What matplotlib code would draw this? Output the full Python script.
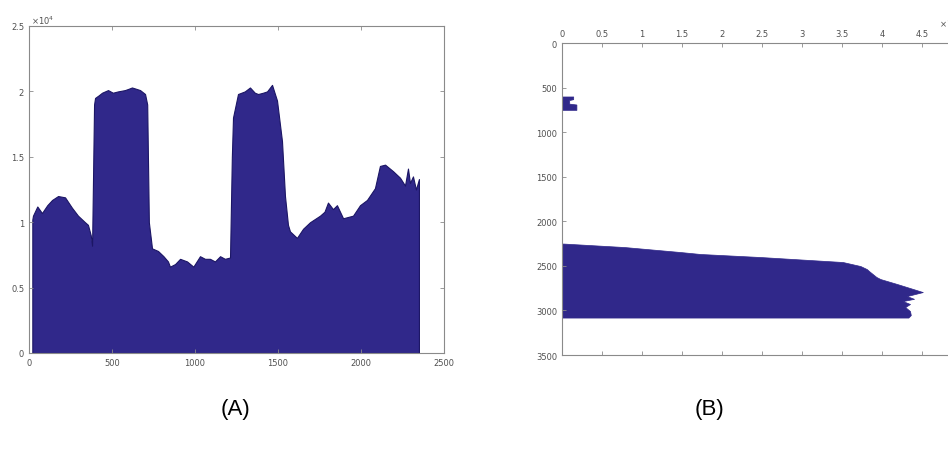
"""
Two MATLAB-style area plots: a profile (A) and a horizontal histogram-like profile (B).
"""

import matplotlib
matplotlib.use("Agg")
import matplotlib.pyplot as plt
from matplotlib.ticker import FuncFormatter

# panel A: profile along x, values in raw units (axis shows x10^4)
PROFILE_X = [
    20, 24, 50, 78, 110, 139, 175, 217, 259, 295, 337, 355, 372, 380,
    392, 398, 420, 440, 476, 505, 536, 578, 600, 620, 645, 669, 699, 712,
    722, 741, 777, 810, 837, 849, 880, 910, 952, 990, 1030, 1060, 1090,
    1120, 1151, 1180, 1211, 1222, 1229, 1259, 1300, 1331, 1360, 1380, 1410,
    1434, 1464, 1494, 1524, 1542, 1560, 1572, 1614, 1651, 1693, 1753, 1780,
    1801, 1831, 1855, 1892, 1952, 1994, 2036, 2084, 2114, 2145, 2193, 2235,
    2265, 2283, 2295, 2313, 2331, 2349,
]
PROFILE_Y = [
    10200, 10500, 11200, 10700, 11300, 11700, 12000, 11900, 11100, 10500,
    10000, 9800, 9000, 8200, 19000, 19500, 19700, 19900, 20100, 19900,
    20000, 20100, 20200, 20300, 20200, 20100, 19800, 19000, 10000, 8000,
    7800, 7400, 7000, 6600, 6800, 7200, 7000, 6600, 7400, 7200, 7200, 7000,
    7400, 7200, 7300, 15000, 18000, 19800, 20000, 20300, 19900, 19800,
    19900, 20000, 20500, 19300, 16200, 12000, 9800, 9300, 8800, 9500,
    10000, 10500, 10800, 11500, 11000, 11300, 10300, 10500, 11300, 11700,
    12600, 14300, 14400, 13900, 13400, 12800, 14100, 13000, 13500, 12500,
    13300,
]

# panel B: two blocks, depth on y, amount on x (raw units, axis shows x10^4)
SMALL_DEPTH = [600, 630, 640, 680, 690, 750]
SMALL_AMOUNT = [1400, 1400, 900, 900, 1800, 1800]

BIG_DEPTH = [
    2250, 2289, 2345, 2367, 2401, 2457, 2502, 2536, 2560, 2625, 2648, 2704,
    2760, 2794, 2839, 2870, 2895, 2928, 2962, 3007, 3052, 3080,
]
BIG_AMOUNT = [
    200, 7800, 14800, 17300, 24800, 35100, 37300, 38100, 38400, 39300,
    39800, 41900, 43900, 45100, 43100, 44000, 42600, 43500, 42900, 43500,
    43600, 43300,
]

FILL = "#30288a"
EDGE = "#1c1665"
SPINE = "#8a8a8a"
TEXT = "#505050"


def style_axes(ax):
    for spine in ax.spines.values():
        spine.set_color(SPINE)
        spine.set_linewidth(0.8)
    ax.tick_params(direction="in", length=3, width=0.6, colors=SPINE,
                   labelcolor=TEXT, labelsize=6, top=True, right=True)


def create_figure() -> None:
    fig = plt.figure(figsize=(9.48, 4.52), dpi=100)

    # (A)
    ax_a = fig.add_axes([29 / 948, 98 / 452, 415 / 948, 327 / 452])
    ax_a.fill_between(PROFILE_X, PROFILE_Y, 0, color=FILL,
                      edgecolor=EDGE, linewidth=0.8)
    ax_a.set_xlim(0, 2500)
    ax_a.set_ylim(0, 25000)
    ax_a.set_xticks(range(0, 2501, 500))
    ax_a.set_yticks(range(0, 25001, 5000))
    ax_a.yaxis.set_major_formatter(FuncFormatter(lambda v, _: f"{v / 1e4:g}"))
    style_axes(ax_a)
    ax_a.text(0.005, 1.0, r"$\times10^4$", transform=ax_a.transAxes,
              fontsize=6, color=TEXT, ha="left", va="bottom")

    # (B) - axes runs past the right edge of the figure, as in the source
    ax_b = fig.add_axes([562 / 948, 96 / 452, 400 / 948, 312 / 452])
    ax_b.fill_betweenx(SMALL_DEPTH, SMALL_AMOUNT, 0, color=FILL,
                       edgecolor=FILL, linewidth=0.5)
    ax_b.fill_betweenx(BIG_DEPTH, BIG_AMOUNT, 0, color=FILL,
                       edgecolor=FILL, linewidth=0.5)
    ax_b.set_xlim(0, 50000)
    ax_b.set_ylim(3500, 0)
    ax_b.set_xticks(range(0, 45001, 5000))
    ax_b.set_yticks(range(0, 3501, 500))
    ax_b.xaxis.set_major_formatter(FuncFormatter(lambda v, _: f"{v / 1e4:g}"))
    ax_b.xaxis.tick_top()
    style_axes(ax_b)
    ax_b.tick_params(bottom=True, labelbottom=False)
    ax_b.text(1.0, 1.045, r"$\times10^4$", transform=ax_b.transAxes,
              fontsize=6, color=TEXT, ha="right", va="bottom")

    fig.text(235 / 948, 1 - 410 / 452, "(A)", fontsize=16,
             family="Liberation Sans", ha="center", va="center")
    fig.text(710 / 948, 1 - 410 / 452, "(B)", fontsize=16,
             family="Liberation Sans", ha="center", va="center")

    fig.savefig("out.png", dpi=100)


if __name__ == "__main__":
    create_figure()
